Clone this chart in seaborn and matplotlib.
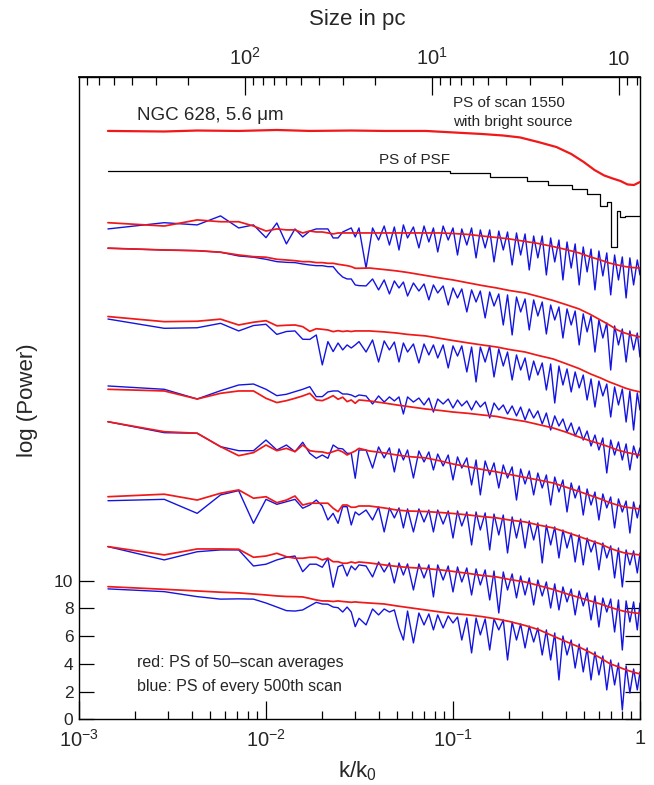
import numpy as np
import pandas as pd
import matplotlib
matplotlib.use("Agg")
import matplotlib.pyplot as plt
import seaborn as sns

# ---------------- data ----------------
K0 = 700.0            # harmonic number of k/k0 = 1
SIZE_CONST = 0.77     # size (pc) = SIZE_CONST / (k/k0)

n_lo = list(range(1, 23))
n_red_hi = [25, 30, 35, 40, 50, 60, 70, 85, 100, 120, 140, 170, 200, 240, 280,
            330, 380, 430, 480, 530, 580, 630, 700]
n_blue_hi = [24, 26, 28, 30, 32, 34, 36, 38, 40, 43, 46, 49, 52, 55, 58, 62, 66,
             70, 74, 78, 83, 88, 93, 98, 104, 110, 116, 123, 130, 137, 145, 153,
             161, 170, 179, 189, 199, 210, 221, 233, 245, 258, 271, 285, 300, 315,
             331, 348, 365, 383, 402, 422, 443, 465, 488, 512, 537, 563, 590, 618,
             647, 677, 700]
n_red = n_lo + n_red_hi
n_blue = n_lo + n_blue_hi

# PS of scan 1550 with bright source
n_scan1550 = [1, 2, 3, 5, 8, 12, 20, 30, 50, 80, 100, 130, 160, 200, 250, 300,
              350, 400, 450, 500, 550, 600, 650, 700]
scan1550 = [42.45, 42.41, 42.48, 42.45, 42.52, 42.45, 42.48, 42.45, 42.45, 42.30,
            42.23, 42.12, 41.98, 41.65, 41.29, 40.79, 40.21, 39.63, 39.24, 39.02,
            38.84, 38.59, 38.55, 38.77]

# PS of PSF (step function)
k_psf = [1 / 700, 0.0964, 0.158, 0.248, 0.322, 0.431, 0.52, 0.61, 0.666, 0.70,
         0.75, 0.78, 0.83, 1.0]
psf = [39.53, 39.40, 39.11, 38.84, 38.55, 38.26, 37.90, 37.04, 37.35, 34.10,
       36.70, 36.24, 36.32, 36.32]

red_1 = [35.83, 35.59, 36.03, 35.90, 35.90, 35.59, 35.23, 35.38, 35.31, 35.31, 35.09,
         35.23, 35.16, 35.16, 35.09, 35.02, 35.09, 35.09, 35.09, 35.09, 35.09, 35.09,
         35.09, 35.09, 35.09, 35.09, 35.09, 35.09, 35.05, 34.98, 34.87, 34.76, 34.66,
         34.48, 34.33, 34.11, 33.90, 33.65, 33.36, 33.14, 32.92, 32.78, 32.67, 32.60, 32.56]
blue_1 = [35.38, 35.83, 35.67, 36.32, 35.45, 35.67, 34.75, 35.81, 34.30, 35.38, 34.80,
          35.23, 35.38, 35.38, 35.38, 34.73, 34.73, 35.16, 35.31, 35.45, 34.80, 35.45,
          32.56, 35.45, 34.58, 35.59, 34.22, 35.52, 33.86, 35.67, 34.73, 35.52,
          34.01, 35.59, 34.44, 35.45, 33.72, 35.59, 34.58, 35.45, 33.50, 35.38,
          34.22, 35.45, 33.29, 35.31, 34.01, 35.31, 33.00, 35.23, 33.86, 35.16,
          32.78, 35.09, 33.50, 35.02, 32.42, 34.87, 33.29, 34.87, 32.06, 34.73,
          33.00, 34.58, 31.70, 34.44, 32.56, 34.30, 31.34, 34.08, 32.28, 33.93,
          30.98, 33.79, 31.99, 33.65, 30.62, 33.50, 31.70, 33.36, 30.40, 33.29,
          31.34, 33.14, 32.06]

red_2 = [33.99, 33.86, 33.81, 33.70, 33.50, 33.38, 33.34, 33.19, 33.14, 33.09, 33.02,
         33.02, 32.95, 32.95, 32.90, 32.90, 32.83, 32.78, 32.73, 32.66, 32.54, 32.54,
         32.56, 32.45, 32.35, 32.24, 32.02, 31.84, 31.70, 31.48, 31.30, 31.12, 30.94,
         30.76, 30.51, 30.22, 29.93, 29.61, 29.21, 28.81, 28.45, 28.09, 27.87, 27.73, 27.59]
blue_2 = [33.99, 33.86, 33.81, 33.70, 33.43, 33.34, 33.19, 33.02, 32.97, 32.95, 32.85,
          32.78, 32.73, 32.73, 32.66, 32.66, 32.22, 31.91, 31.77, 31.77, 31.34, 31.29,
          31.27, 31.77, 30.98, 31.70, 30.69, 31.63, 31.12, 31.55, 30.54, 31.48,
          30.90, 31.41, 30.26, 31.34, 30.76, 31.27, 29.89, 31.12, 30.40, 31.05,
          29.39, 30.98, 30.11, 30.90, 28.96, 30.83, 29.82, 30.69, 28.45, 30.62,
          27.73, 30.47, 29.39, 30.33, 28.09, 30.26, 29.10, 30.11, 27.80, 29.89,
          28.81, 29.75, 27.51, 29.61, 28.45, 29.46, 27.01, 29.25, 27.95, 29.10,
          26.50, 28.81, 27.51, 28.60, 25.20, 28.38, 27.01, 28.16, 25.78, 28.02,
          26.65, 27.87, 26.14]

red_3 = [29.06, 28.69, 28.72, 28.87, 28.45, 28.65, 28.76, 28.39, 28.43, 28.45, 28.33,
         27.99, 28.18, 28.14, 28.09, 27.97, 28.04, 27.98, 28.02, 27.98, 28.02, 28.02,
         28.02, 27.95, 27.87, 27.77, 27.66, 27.48, 27.33, 27.15, 27.01, 26.86, 26.68,
         26.50, 26.25, 26.00, 25.67, 25.31, 24.92, 24.63, 24.34, 24.12, 23.91, 23.76, 23.62]
blue_3 = [28.88, 28.21, 28.25, 28.57, 28.02, 28.41, 28.50, 27.77, 27.98, 28.02, 27.42,
          27.41, 27.73, 25.57, 27.25, 26.53, 27.15, 26.65, 27.01, 26.79, 27.01, 27.25,
          26.50, 27.37, 25.78, 27.30, 26.65, 27.22, 25.78, 27.15, 26.50, 27.08,
          25.71, 27.08, 26.29, 27.01, 26.07, 27.01, 25.35, 26.94, 26.21, 26.94,
          25.06, 26.86, 24.34, 26.86, 25.78, 26.94, 24.70, 26.72, 25.49, 26.50,
          24.48, 26.29, 25.20, 26.07, 24.48, 25.85, 24.84, 25.71, 23.76, 25.64,
          22.82, 25.49, 24.12, 25.28, 23.62, 25.06, 23.91, 24.84, 23.04, 24.56,
          22.53, 24.41, 23.33, 24.19, 21.81, 23.98, 22.68, 23.83, 21.45, 23.69,
          20.87, 23.55, 22.32]

red_4 = [23.81, 23.69, 23.11, 23.52, 23.69, 23.69, 23.16, 22.85, 22.99, 23.16, 23.33,
         23.52, 23.04, 22.99, 23.16, 23.35, 23.09, 23.24, 22.92, 23.04, 22.80, 23.04,
         22.97, 22.82, 22.68, 22.57, 22.39, 22.28, 22.17, 22.07, 21.96, 21.85, 21.67,
         21.49, 21.27, 21.02, 20.73, 20.37, 20.08, 19.87, 19.65, 19.43, 19.29, 19.18, 19.07]
blue_4 = [24.05, 23.81, 23.11, 23.71, 24.12, 24.19, 23.81, 23.35, 23.45, 23.64, 23.81,
          24.00, 23.28, 23.28, 23.62, 23.69, 23.69, 23.47, 23.47, 23.40, 23.26, 23.40,
          23.33, 22.75, 23.33, 22.89, 23.26, 22.97, 23.26, 22.03, 23.26, 22.89,
          23.18, 22.68, 23.18, 22.17, 23.11, 22.75, 23.11, 22.46, 23.04, 22.61,
          22.97, 22.32, 22.97, 22.53, 22.89, 21.74, 22.82, 22.32, 22.68, 22.03,
          22.61, 21.89, 22.53, 21.60, 22.39, 21.74, 22.25, 21.31, 22.10, 20.87,
          21.89, 21.16, 21.67, 20.73, 21.38, 20.44, 21.09, 20.15, 20.80, 19.72,
          20.51, 19.43, 20.30, 17.77, 20.15, 19.07, 20.01, 18.71, 19.87, 17.99,
          19.72, 18.85, 19.58]

red_5 = [21.47, 20.75, 20.64, 19.67, 19.02, 19.24, 19.79, 19.38, 19.55, 19.31, 19.79,
         19.38, 19.31, 19.29, 19.19, 19.31, 19.43, 19.29, 19.07, 19.22, 19.36, 19.55,
         19.36, 19.22, 19.07, 18.96, 18.86, 18.64, 18.42, 18.21, 18.03, 17.85, 17.67,
         17.45, 17.27, 17.05, 16.76, 16.44, 16.15, 15.90, 15.64, 15.46, 15.32, 15.25, 15.18]
blue_5 = [21.47, 20.68, 20.64, 19.67, 19.38, 19.38, 20.15, 19.43, 19.79, 19.31, 19.99,
          19.19, 18.83, 19.07, 18.83, 19.79, 19.55, 19.51, 19.19, 19.19, 17.39, 19.43,
          19.43, 18.13, 19.65, 18.86, 19.58, 17.85, 19.51, 18.71, 19.43, 17.41,
          19.36, 18.57, 19.29, 17.99, 19.14, 18.28, 19.07, 17.27, 18.93, 18.13,
          18.86, 16.91, 18.71, 16.19, 18.64, 17.63, 18.50, 16.69, 18.35, 17.41,
          18.21, 15.82, 18.06, 16.98, 17.92, 16.19, 17.77, 16.69, 17.63, 15.46,
          17.48, 16.40, 17.27, 14.96, 17.05, 15.97, 16.84, 14.74, 16.62, 15.46,
          16.40, 14.38, 16.26, 15.25, 16.04, 13.81, 15.90, 14.96, 15.75, 13.44,
          15.68, 14.53, 15.46]

red_6 = [16.06, 16.24, 15.82, 16.31, 16.55, 15.95, 16.06, 15.63, 15.82, 16.11, 15.46,
         15.59, 15.59, 15.59, 15.59, 15.23, 14.98, 15.46, 15.46, 15.30, 15.30, 15.39,
         15.39, 15.25, 15.10, 15.03, 14.99, 14.92, 14.85, 14.74, 14.63, 14.53, 14.38,
         14.24, 14.02, 13.81, 13.52, 13.19, 12.90, 12.65, 12.36, 12.15, 12.00, 11.93, 11.86]
blue_6 = [15.77, 15.87, 14.86, 16.19, 16.50, 14.14, 15.87, 15.51, 15.70, 15.87, 15.23,
          15.46, 15.82, 15.39, 14.38, 14.86, 14.14, 15.34, 15.34, 14.02, 14.96, 14.74,
          15.10, 14.38, 15.32, 13.52, 15.25, 14.53, 15.25, 13.81, 15.18, 13.52,
          15.18, 14.24, 15.10, 13.52, 15.10, 14.09, 15.03, 13.08, 15.03, 13.95,
          14.96, 12.58, 14.96, 13.66, 14.89, 12.22, 14.81, 13.30, 14.74, 12.00,
          14.60, 13.08, 14.45, 12.36, 14.31, 12.94, 14.17, 11.28, 14.02, 12.58,
          13.88, 11.64, 13.66, 12.36, 13.44, 11.35, 13.30, 11.14, 13.08, 12.07,
          12.87, 10.78, 12.72, 11.64, 12.51, 10.20, 12.36, 9.55, 12.22, 11.14,
          12.15, 10.56, 12.00]

red_7 = [12.46, 11.86, 12.29, 12.29, 12.27, 11.69, 11.78, 11.98, 11.73, 11.62, 11.62,
         11.69, 11.69, 11.50, 11.62, 11.37, 11.37, 11.26, 11.26, 11.35, 11.28, 11.35,
         11.28, 11.14, 11.03, 10.96, 10.88, 10.78, 10.67, 10.52, 10.38, 10.27, 10.09,
         9.91, 9.66, 9.37, 9.08, 8.79, 8.54, 8.32, 8.10, 7.92, 7.78, 7.71, 7.63]
blue_7 = [12.46, 11.50, 12.09, 12.22, 12.22, 11.06, 11.19, 11.50, 11.69, 11.78, 10.65,
          11.19, 11.19, 10.97, 11.62, 9.53, 11.01, 11.14, 10.34, 11.06, 10.78, 11.14,
          11.06, 10.27, 11.35, 10.63, 11.28, 9.84, 11.28, 10.41, 11.21, 9.33,
          11.21, 10.20, 11.14, 8.83, 11.14, 10.05, 11.06, 9.19, 10.99, 9.91,
          10.92, 8.97, 10.85, 9.69, 10.78, 8.61, 10.70, 7.67, 10.63, 9.33,
          10.49, 8.76, 10.34, 8.97, 10.20, 8.25, 10.05, 8.90, 9.91, 8.03,
          9.77, 7.89, 9.55, 8.47, 9.40, 7.53, 9.26, 8.18, 9.12, 7.17,
          8.90, 6.66, 8.75, 7.74, 8.68, 6.30, 8.61, 5.00, 8.54, 7.02,
          8.47, 6.45, 8.39]

red_8 = [9.57, 9.38, 9.26, 9.17, 9.12, 9.04, 8.97, 8.90, 8.86, 8.85, 8.83,
         8.72, 8.61, 8.54, 8.54, 8.50, 8.54, 8.50, 8.47, 8.44, 8.47, 8.44,
         8.39, 8.32, 8.18, 8.07, 7.89, 7.74, 7.63, 7.53, 7.41, 7.24, 7.06,
         6.77, 6.48, 6.01, 5.62, 5.22, 4.82, 4.43, 4.03, 3.81, 3.60, 3.44, 3.27]
blue_8 = [9.41, 9.21, 8.85, 8.67, 8.69, 8.67, 8.39, 8.10, 7.84, 7.81, 7.89,
          8.18, 8.44, 8.32, 8.30, 8.10, 8.05, 7.74, 8.10, 7.74, 6.68, 7.29,
          6.81, 7.96, 7.53, 7.96, 7.74, 7.89, 6.59, 5.72, 7.81, 5.51,
          7.67, 6.81, 7.60, 6.45, 7.53, 6.59, 7.46, 6.95, 7.38, 5.72,
          7.31, 4.79, 7.31, 6.09, 7.24, 5.00, 7.24, 6.45, 7.17, 4.28,
          7.02, 5.72, 6.88, 5.15, 6.73, 5.58, 6.59, 4.64, 6.45, 4.28,
          6.23, 2.84, 6.01, 4.64, 5.72, 3.70, 5.43, 3.42, 5.15, 2.84,
          4.86, 3.20, 4.57, 2.12, 4.28, 2.48, 4.06, 0.67, 3.85, 1.90,
          3.63, 2.12, 3.42]

reds = [red_1, red_2, red_3, red_4, red_5, red_6, red_7, red_8]
blues = [blue_1, blue_2, blue_3, blue_4, blue_5, blue_6, blue_7, blue_8]

x_major = [1e-3, 1e-2, 1e-1, 1.0]
x_major_labels = ['$10^{-3}$', '$10^{-2}$', '$10^{-1}$', '1']
y_ticks = [0, 2, 4, 6, 8, 10]
size_major = [100, 10, 1]
size_major_labels = ['$10^{2}$', '$10^{1}$', '10']
size_minor = [200, 300, 400, 500, 600, 700, 800, 900,
              20, 30, 40, 50, 60, 70, 80, 90,
              2, 3, 4, 5, 6, 7, 8, 9, 0.9, 0.8]

# ---------------- style ----------------
sns.set_theme(style="ticks")
plt.rcParams['font.family'] = ['Liberation Sans', 'DejaVu Sans']
plt.rcParams['mathtext.fontset'] = 'custom'
plt.rcParams['mathtext.rm'] = 'Liberation Sans'
plt.rcParams['mathtext.it'] = 'Liberation Sans:italic'
plt.rcParams['mathtext.default'] = 'regular'

W, H = 654, 785
TOP, BOT, LEFT, RIGHT = 77, 719.3, 79, 640
fig = plt.figure(figsize=(W / 100, H / 100), dpi=100)
fig.patch.set_facecolor('white')
ax = fig.add_axes([LEFT / W, 1 - BOT / H, (RIGHT - LEFT) / W, (BOT - TOP) / H])
ax.set_facecolor('white')

RED = '#f01818'
BLUE = '#1414e0'


def frame(n, v):
    return pd.DataFrame({'k': np.asarray(n, float) / K0, 'power': np.asarray(v, float)})


for b, r in zip(blues, reds):
    sns.lineplot(data=frame(n_blue, b), x='k', y='power', color=BLUE, lw=1.0,
                 estimator=None, sort=False, ax=ax, zorder=2)
    sns.lineplot(data=frame(n_red, r), x='k', y='power', color=RED, lw=1.25,
                 estimator=None, sort=False, ax=ax, zorder=3)

sns.lineplot(data=frame(n_scan1550, scan1550), x='k', y='power', color=RED, lw=1.6,
             estimator=None, sort=False, ax=ax, zorder=3)
sns.lineplot(data=pd.DataFrame({'k': k_psf, 'power': psf}), x='k', y='power',
             color='black', lw=0.9, drawstyle='steps-post',
             estimator=None, sort=False, ax=ax, zorder=3)

ax.set_xscale('log')
ax.set_xlim(1e-3, 1.0)
ax.set_ylim(0, (BOT - TOP) / 13.86)
ax.set_xlabel('')
ax.set_ylabel('')

for s in ax.spines.values():
    s.set_visible(True)
    s.set_color('black')
    s.set_linewidth(1.0)

ax.set_xticks(x_major)
ax.set_xticklabels(x_major_labels)
ax.xaxis.set_minor_locator(matplotlib.ticker.LogLocator(base=10, subs=np.arange(2, 10)))
ax.xaxis.set_minor_formatter(matplotlib.ticker.NullFormatter())
ax.tick_params(axis='x', which='major', direction='in', length=13, width=0.9,
               labelsize=14.5, pad=7, top=False, color='black')
ax.tick_params(axis='x', which='minor', direction='in', length=6, width=0.9,
               top=False, color='black')
ax.set_yticks(y_ticks)
ax.tick_params(axis='y', which='major', direction='in', length=11, width=0.9,
               labelsize=12.5, left=True, right=True, labelright=False, pad=4,
               color='black')


def k_to_size(k):
    k = np.asarray(k, float)
    with np.errstate(divide='ignore', invalid='ignore'):
        return SIZE_CONST / k


sec = ax.secondary_xaxis('top', functions=(k_to_size, k_to_size))
sec.set_xticks(size_major, labels=size_major_labels)
sec.set_xticks(size_minor, minor=True)
sec.tick_params(which='major', direction='in', length=13, width=0.9, labelsize=14.5,
                pad=6, color='black')
sec.tick_params(which='minor', direction='in', length=6, width=0.9, color='black')
sec.spines['top'].set_color('black')

# ---------------- text ----------------
fig.text(357 / W, 1 - 20 / H, 'Size in pc', fontsize=16, ha='center', va='center')
fig.text(357 / W, 1 - 771 / H, 'k/k$_0$', fontsize=16, ha='center', va='center')
fig.text(28 / W, 1 - 400 / H, 'log (Power)', fontsize=16, rotation=90,
         ha='center', va='center')
fig.text(137 / W, 1 - 115 / H, 'NGC 628, 5.6 μm', fontsize=13.5, ha='left', va='center')
fig.text(453 / W, 1 - 103 / H, 'PS of scan 1550', fontsize=11, ha='left', va='center')
fig.text(453 / W, 1 - 122 / H, 'with bright source', fontsize=11, ha='left', va='center')
fig.text(379 / W, 1 - 160 / H, 'PS of PSF', fontsize=11, ha='left', va='center')
fig.text(137 / W, 1 - 662 / H, 'red: PS of 50–scan averages', fontsize=11.5,
         ha='left', va='center')
fig.text(137 / W, 1 - 686 / H, 'blue: PS of every 500th scan', fontsize=11.5,
         ha='left', va='center')

fig.savefig('out.png', dpi=100, facecolor='white')
